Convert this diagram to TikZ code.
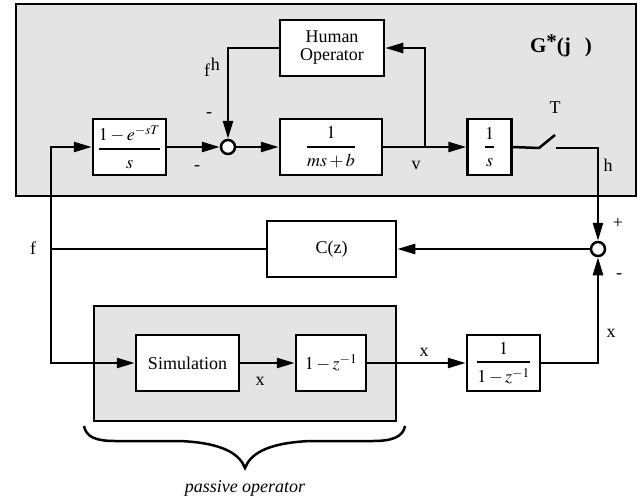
\documentclass[tikz,border=0pt]{standalone}
\usepackage{amsmath}
\usepackage{mathptmx}
\usepackage{fontspec}
\setmainfont{Liberation Serif}
\usetikzlibrary{arrows.meta}
\definecolor{panel}{HTML}{E4E4E4}
\newcommand{\tfr}[2]{\genfrac{}{}{2pt}{0}{\vphantom{l}#1}{\vphantom{l}#2}}
\begin{document}
\begin{tikzpicture}[x=1pt,y=-1pt,
  every node/.style={font=\fontsize{18}{20}\selectfont},
  blk/.style={draw,line width=2.5pt,fill=white,inner sep=0pt,minimum height=56pt,align=center},
  sumc/.style={draw,circle,line width=2.5pt,fill=white,minimum size=14pt,inner sep=0pt},
  pan/.style={draw,line width=2.5pt,fill=panel},
  lnk/.style={line width=2.5pt},
  arr/.style={lnk,-{Triangle[length=18pt,width=10pt]}},
  lbl/.style={inner sep=0pt}]
\useasboundingbox (0,0) rectangle (638,499);
% panels
\draw[pan] (16,4) rectangle (636,196);
\draw[pan] (94,306) rectangle (396,421);
% blocks
\node[blk,minimum width=104pt] (ho) at (332,48) {Human\\[-2pt]Operator};
\node[blk,minimum width=73pt] (hold) at (129.5,147) {$\tfr{1-e^{-sT}}{s}$};
\node[sumc] (s1) at (228,147) {};
\node[blk,minimum width=102pt] (msb) at (331,147) {$\tfr{1}{ms+b}$};
\node[blk,minimum width=44pt] (int) at (489.5,147) {$\tfr{1}{s}$};
\node[sumc] (s2) at (598,249) {};
\node[blk,minimum width=129pt] (cz) at (331.5,249) {C(z)};
\node[blk,minimum width=103pt] (sim) at (187.5,363) {Simulation};
\node[blk,minimum width=70pt] (dz) at (331,363) {$1-z^{-1}$};
\node[blk,minimum width=73pt] (iz) at (503.5,363) {$\tfr{1}{1-z^{-1}}$};
% coordinates
\coordinate (br) at (425,147);
\coordinate (swa) at (539,148);
\coordinate (swb) at (555,135);
\coordinate (swc) at (556,148);
\coordinate (fj) at (51,249);
% connectors
\draw[arr] (ho.west) -| (s1);
\draw[arr] (hold.east) -- (s1);
\draw[arr] (s1) -- (msb.west);
\draw[arr] (msb.east) -- (int.west);
\draw[arr] (br) |- (ho.east);
\draw[lnk] (int.east) -- (swa) -- (swb);
\draw[arr] (swc) -| (s2);
\draw[arr] (s2) -- (cz.east);
\draw[lnk] (cz.west) -- (fj);
\draw[arr] (fj) |- (hold.west);
\draw[arr] (fj) |- (sim.west);
\draw[arr] (sim.east) -- (dz.west);
\draw[arr] (dz.east) -- (iz.west);
\draw[arr] (iz.east) -| (s2);
% brace
\draw[line width=2.5pt] (84,426) .. controls (86,437) and (96,441) .. (115,441) -- (180,441)
  .. controls (225,443) and (240,455) .. (245,468)
  .. controls (250,455) and (265,443) .. (310,441) -- (373,441)
  .. controls (392,441) and (403,437) .. (405,426);
% labels
\node[lbl] (lfh) at (212,67) {f\hspace{1pt}\raisebox{6pt}{h}};
\node[lbl] (lm1) at (209,115) {-};
\node[lbl] (lm2) at (197,168) {-};
\node[lbl] (lv) at (416,165) {v};
\node[lbl] (lT) at (555,108) {T};
\node[lbl] (lh) at (608,165) {h};
\node[lbl,font=\fontsize{21}{24}\selectfont\bfseries] (lG) at (561,46) {G\raisebox{4pt}{*}(j\hspace{14pt})};
\node[lbl] (lp) at (618,223) {+};
\node[lbl] (lm3) at (619,276) {-};
\node[lbl] (lf) at (33,248) {f};
\node[lbl] (lx1) at (260,381) {x};
\node[lbl] (lx2) at (424,352) {x};
\node[lbl] (lx3) at (611,333) {x};
\node[lbl,font=\fontsize{18}{20}\selectfont\itshape] (lpo) at (245,488) {passive operator};
\end{tikzpicture}
\end{document}
